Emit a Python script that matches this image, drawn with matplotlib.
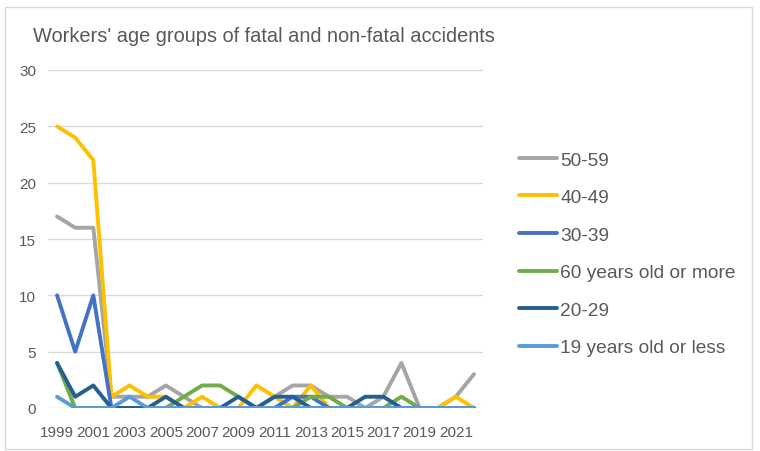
import matplotlib.pyplot as plt
from matplotlib.patches import Rectangle

years = list(range(1999, 2023))
tick_labels = [str(y) if (y - 1999) % 2 == 0 else '' for y in years]

age_50_59 = [17, 16, 16, 1, 1, 1, 2, 1, 0, 0, 0, 0, 1, 2, 2, 1, 1, 0, 1, 4, 0, 0, 1, 3]
age_40_49 = [25, 24, 22, 1, 2, 1, 1, 0, 1, 0, 0, 2, 1, 0, 2, 0, 0, 0, 0, 0, 0, 0, 1, 0]
age_30_39 = [10, 5, 10, 0, 0, 0, 0, 0, 0, 0, 0, 0, 0, 1, 1, 0, 0, 0, 0, 0, 0, 0, 0, 0]
age_60_plus = [4, 0, 0, 0, 0, 0, 0, 1, 2, 2, 1, 0, 0, 0, 1, 1, 0, 0, 0, 1, 0, 0, 0, 0]
age_20_29 = [4, 1, 2, 0, 0, 0, 1, 0, 0, 0, 1, 0, 1, 1, 0, 0, 0, 1, 1, 0, 0, 0, 0, 0]
age_19_less = [1, 0, 0, 0, 1, 0, 0, 0, 0, 0, 0, 0, 0, 0, 0, 0, 0, 0, 0, 0, 0, 0, 0, 0]

series = [
    ('50-59', age_50_59, '#A5A5A5'),
    ('40-49', age_40_49, '#FFC000'),
    ('30-39', age_30_39, '#4472C4'),
    ('60 years old or more', age_60_plus, '#70AD47'),
    ('20-29', age_20_29, '#255E91'),
    ('19 years old or less', age_19_less, '#5B9BD5'),
]

plt.rcParams['font.family'] = ['Liberation Sans', 'DejaVu Sans']
text_col = '#595959'

fig = plt.figure(figsize=(7.6, 4.52), dpi=100)
W, H = 760, 452
ax = fig.add_axes([48 / W, 1 - 409 / H, 435 / W, 338 / H])

x = list(range(len(years)))
for name, vals, col in series:
    ax.plot(x, vals, color=col, lw=2.8, label=name,
            solid_joinstyle='round', solid_capstyle='round')

ax.set_xlim(-0.5, len(years) - 0.5)
ax.set_ylim(0, 30)
ax.set_yticks(range(0, 31, 5))
ax.set_xticks(x)
ax.set_xticklabels(tick_labels)
ax.grid(axis='y', color='#D9D9D9', lw=1)
ax.set_axisbelow(True)
for s in ax.spines.values():
    s.set_visible(False)
ax.tick_params(length=0, labelsize=11, labelcolor=text_col)
ax.tick_params(axis='y', pad=8.5)
ax.tick_params(axis='x', pad=12.5)

fig.text(33 / W, 1 - 37 / H, "Workers' age groups of fatal and non-fatal accidents",
         fontsize=14.4, color=text_col, va='center', ha='left')

leg = fig.legend(loc='upper left', bbox_to_anchor=(502 / W, 1 - 135 / H),
                 frameon=False, fontsize=13.8, handlelength=1.98, handletextpad=0.16,
                 labelspacing=1.05, labelcolor=text_col)

fig.patches.append(Rectangle((5 / W, 1 - 450 / H), 747 / W, 442 / H,
                             transform=fig.transFigure, fill=False,
                             edgecolor='#D9D9D9', lw=1))

fig.savefig('out.png', dpi=100)
